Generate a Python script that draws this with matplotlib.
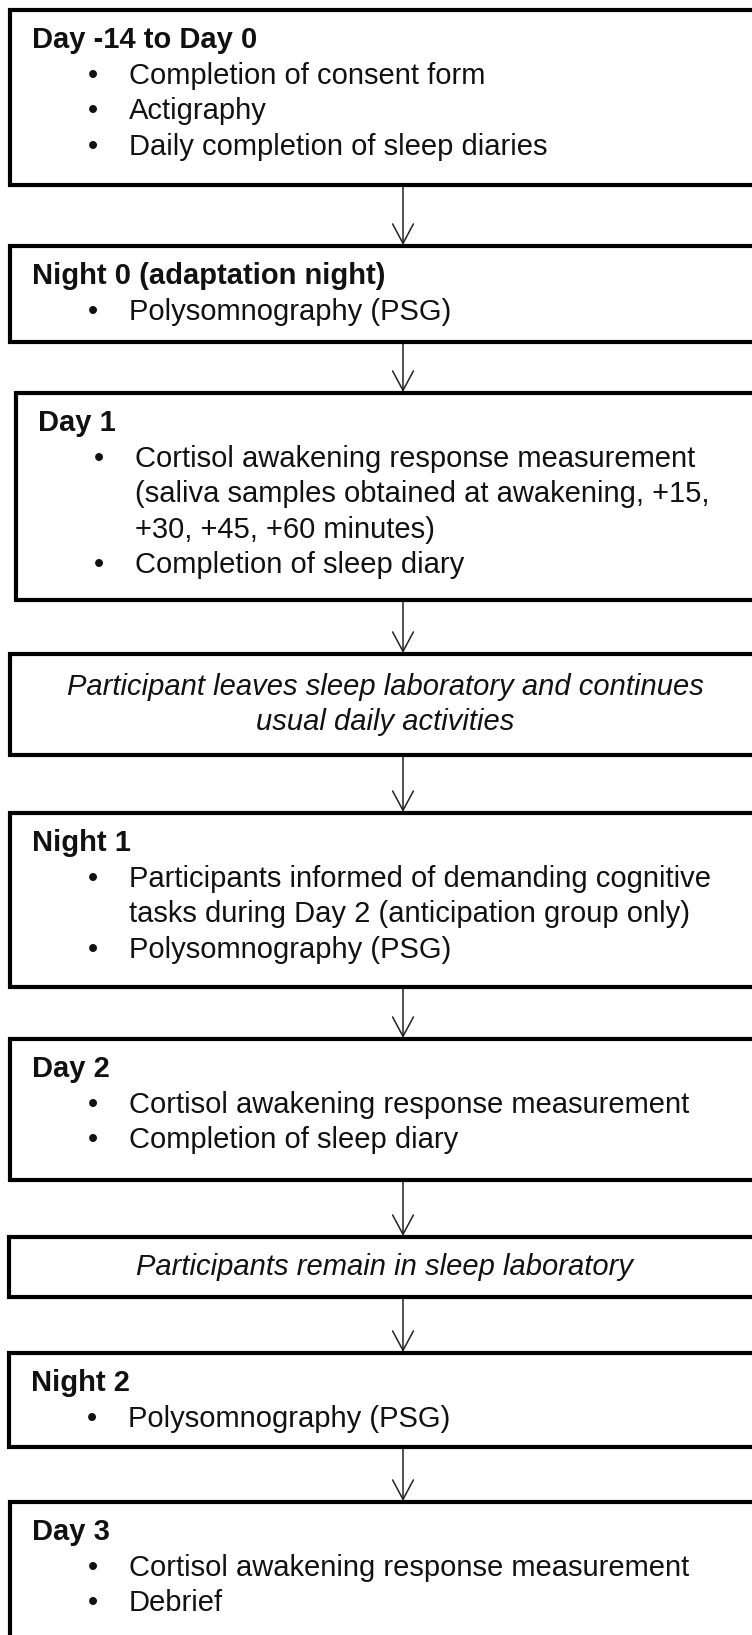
import matplotlib.pyplot as plt
from matplotlib.patches import Rectangle, FancyArrowPatch

plt.rcParams["font.family"] = ["Liberation Sans", "DejaVu Sans"]

# step content
titles = [
    "Day -14 to Day 0",
    "Night 0 (adaptation night)",
    "Day 1",
    None,
    "Night 1",
    "Day 2",
    None,
    "Night 2",
    "Day 3",
]
bullets = [
    ["Completion of consent form", "Actigraphy", "Daily completion of sleep diaries"],
    ["Polysomnography (PSG)"],
    [
        "Cortisol awakening response measurement\n(saliva samples obtained at awakening, +15,\n+30, +45, +60 minutes)",
        "Completion of sleep diary",
    ],
    [],
    [
        "Participants informed of demanding cognitive\ntasks during Day 2 (anticipation group only)",
        "Polysomnography (PSG)",
    ],
    ["Cortisol awakening response measurement", "Completion of sleep diary"],
    [],
    ["Polysomnography (PSG)"],
    ["Cortisol awakening response measurement", "Debrief"],
]
notes = [
    None,
    None,
    None,
    "Participant leaves sleep laboratory and continues\nusual daily activities",
    None,
    None,
    "Participants remain in sleep laboratory",
    None,
    None,
]

# layout in pixels
W, H = 752, 1635
box_top = [10, 246, 393, 654, 813, 1039, 1237, 1353, 1502]
box_bottom = [185, 342, 600, 755, 987, 1180, 1297, 1447, 1680]
box_left = [10, 10, 16, 10, 10, 10, 9, 9, 10]
box_right = 762
arrow_x = 403
line_h = 35.5
fs = 21
txt = "#111111"

fig = plt.figure(figsize=(W / 100, H / 100), dpi=100)
ax = fig.add_axes([0, 0, 1, 1])
ax.set_xlim(0, W)
ax.set_ylim(H, 0)
ax.axis("off")

for i in range(len(box_top)):
    top, bot, left = box_top[i], box_bottom[i], box_left[i]
    ax.add_patch(Rectangle((left, top), box_right - left, bot - top,
                           facecolor="white", edgecolor="black", lw=3, zorder=2))
    if notes[i] is not None:
        parts = notes[i].split("\n")
        y0 = (top + bot) / 2 - line_h * (len(parts) - 1) / 2
        for k, part in enumerate(parts):
            ax.text(385, y0 + k * line_h, part, style="italic",
                    ha="center", va="center", fontsize=fs, color=txt, zorder=3)
        continue
    y = top + 30
    ax.text(left + 22, y, titles[i], fontweight="bold", ha="left", va="center",
            fontsize=fs, color=txt, zorder=3)
    for item in bullets[i]:
        y += line_h
        ax.text(left + 78, y, "\u2022", ha="left", va="center", fontsize=fs,
                color=txt, zorder=3)
        parts = item.split("\n")
        for k, part in enumerate(parts):
            ax.text(left + 119, y + k * line_h, part, ha="left", va="center",
                    fontsize=fs, color=txt, zorder=3)
        y += line_h * (len(parts) - 1)

for i in range(len(box_top) - 1):
    arr = FancyArrowPatch((arrow_x, box_bottom[i] + 2), (arrow_x, box_top[i + 1] - 1),
                          arrowstyle="->,head_length=14,head_width=7.5",
                          mutation_scale=1, lw=1.1, color="#222222",
                          shrinkA=0, shrinkB=0, zorder=1)
    ax.add_patch(arr)

fig.savefig("out.png", dpi=100, facecolor="white")
